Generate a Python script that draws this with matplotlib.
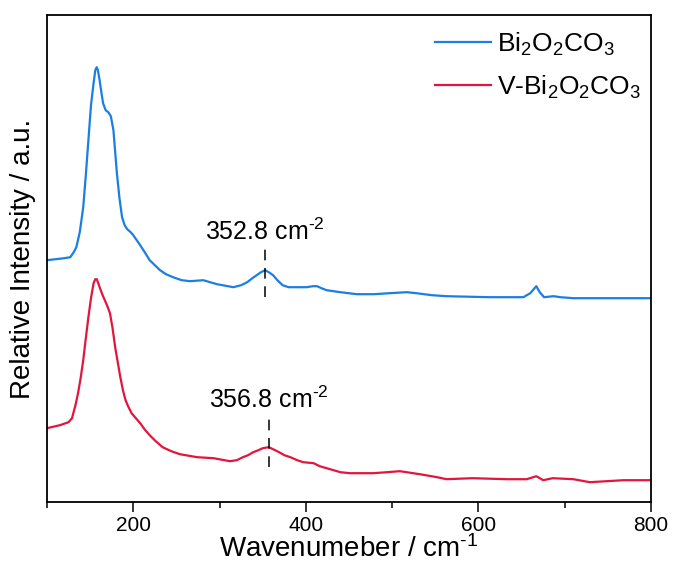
import numpy as np
import matplotlib.pyplot as plt

plt.rcParams['font.family'] = ['Liberation Sans', 'DejaVu Sans']
plt.rcParams['mathtext.fontset'] = 'custom'
plt.rcParams['mathtext.rm'] = 'Liberation Sans'
plt.rcParams['mathtext.it'] = 'Liberation Sans:italic'
plt.rcParams['mathtext.default'] = 'regular'

# Bi2O2CO3 spectrum (wavenumber, relative intensity)
wn_blue = [100, 110, 120, 127, 131, 134, 138, 142, 145, 148, 151, 154, 156,
           157.6, 159, 161, 163, 165, 168, 171, 174, 177, 181, 184, 187, 190,
           193, 197, 200, 204, 208, 214, 219, 225, 231, 238, 246, 256, 266,
           281, 297, 316, 325, 332, 338, 343, 348, 352.8, 357, 362, 367, 373,
           380, 390, 401, 408, 413, 418, 424, 440, 459, 479, 497, 517, 528,
           546, 563, 613, 652, 660, 667, 671, 676, 687, 695, 710, 750, 800]
int_blue = [242, 243, 244, 245, 250, 255, 270, 295, 327, 362, 397, 419, 432,
            435, 432, 422, 410, 399, 392, 390, 386, 372, 329, 304, 285, 277,
            273, 270, 267, 262, 257, 249, 242, 237, 232, 228, 225, 222, 221,
            222, 218, 215, 217, 220, 224, 227, 230, 232, 230, 227, 222, 217,
            215, 215, 215, 216, 216, 214, 212, 210, 208, 208, 209, 210, 209,
            207, 206, 205, 205, 209, 216, 210, 205, 206, 205, 204, 204, 204]

# V-Bi2O2CO3 spectrum
wn_red = [100, 115, 125, 129, 133, 136, 139, 142, 145, 148, 151, 154, 156,
          157.6, 159, 161, 164, 167, 170, 173, 176, 179, 182, 185, 188, 191,
          194, 198, 203, 208, 213, 219, 226, 234, 244, 254, 274, 293, 312,
          320, 327, 333, 339, 345, 350, 356.8, 362, 369, 375, 382, 390, 397,
          409, 416, 424, 432, 440, 451, 478, 494, 509, 532, 552, 563, 593,
          633, 656, 667, 675, 686, 710, 729, 768, 800]
int_red = [74, 77, 80, 84, 97, 109, 124, 142, 164, 185, 204, 219, 223,
           223, 220, 215, 208, 202, 196, 189, 174, 155, 140, 125, 112, 102,
           96, 89, 84, 79, 73, 67, 61, 55, 51, 48, 45, 44, 41,
           42, 45, 47, 50, 52, 54, 55, 53, 50, 47, 45, 42, 40,
           39, 36, 34, 32, 30, 29, 29, 30, 31, 28, 25, 23, 24,
           23, 23, 26, 22, 24, 23, 20, 22, 22]

labels = ['Bi$_2$O$_2$CO$_3$', 'V-Bi$_2$O$_2$CO$_3$']
peaks = [352.8, 356.8]
peak_text = ['352.8 cm$^{\\text{-}2}$', '356.8 cm$^{\\text{-}2}$']

fig = plt.figure(figsize=[6.74, 5.63], dpi=100)
ax = fig.add_axes([0.0697, 0.108, 0.8963, 0.865])

ax.plot(wn_blue, int_blue, color='#1a7fe3', lw=1.6, label=labels[0])
ax.plot(wn_red, int_red, color='#e3153c', lw=1.6, label=labels[1])

# peak markers
ax.plot([peaks[0], peaks[0]], [205, 253], color='k', lw=1.1, ls=(0, (7, 5)))
ax.plot([peaks[1], peaks[1]], [35, 84], color='k', lw=1.1, ls=(0, (7, 5)))
ax.text(peaks[0], 262, peak_text[0], ha='center', va='baseline', fontsize=18)
ax.text(peaks[1], 94, peak_text[1], ha='center', va='baseline', fontsize=18)

ax.set_xlim(100, 800)
ax.set_ylim(0, 487)
ax.set_xticks([200, 400, 600, 800])
ax.set_xticks([100, 300, 500, 700], minor=True)
ax.set_yticks([])
ax.tick_params(axis='x', which='major', direction='out', length=7, width=1.1,
               labelsize=15, pad=3)
ax.tick_params(axis='x', which='minor', direction='out', length=4.5, width=1.1)
for s in ax.spines.values():
    s.set_linewidth(1.3)

ax.set_xlabel('Wavenumeber / cm$^{\\text{-}1}$', fontsize=20, labelpad=0)
ax.set_ylabel('Relative Intensity / a.u.', fontsize=20, labelpad=8)

ax.legend(loc='upper right', bbox_to_anchor=(1.0017, 0.99), frameon=False,
          fontsize=19, handlelength=2.1, handletextpad=0.25, labelspacing=0.6,
          borderaxespad=0)

fig.savefig('out.png', dpi=100)
